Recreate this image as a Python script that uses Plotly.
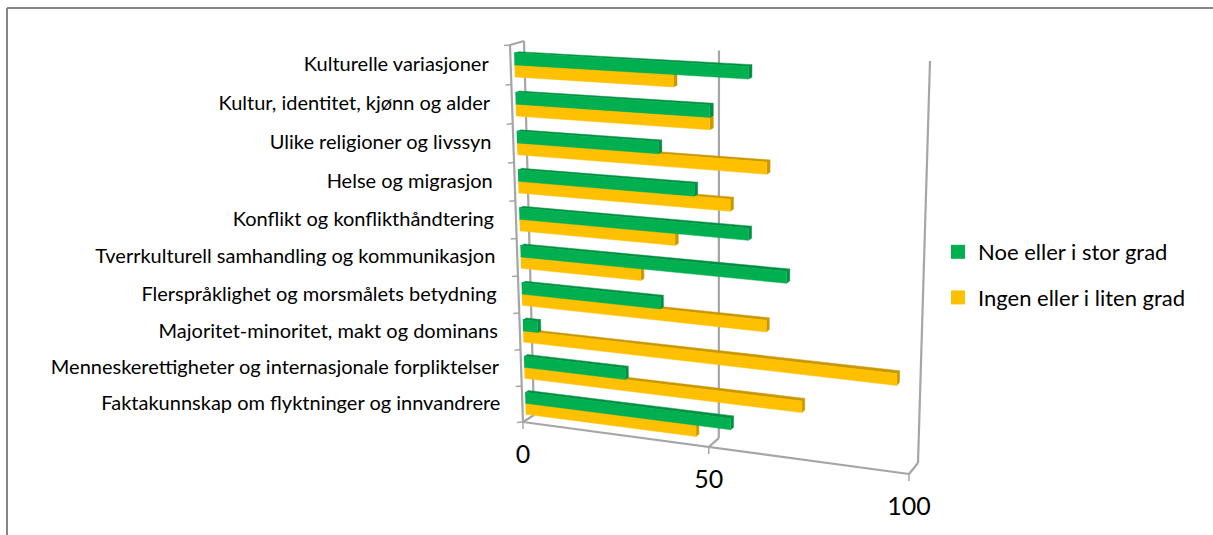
import numpy as np
import plotly.graph_objects as go

categories = [
    "Faktakunnskap om flyktninger og innvandrere",
    "Menneskerettigheter og internasjonale forpliktelser",
    "Majoritet-minoritet, makt og dominans",
    "Flerspråklighet og morsmålets betydning",
    "Tverrkulturell samhandling og kommunikasjon",
    "Konflikt og konflikthåndtering",
    "Helse og migrasjon",
    "Ulike religioner og livssyn",
    "Kultur, identitet, kjønn og alder",
    "Kulturelle variasjoner",
]
noe_eller_i_stor_grad = [55, 27.5, 4, 37, 69, 59.5, 46, 37, 50, 59.5]
ingen_eller_i_liten_grad = [46, 73, 96, 64, 32, 41, 55, 64, 50, 41]
value_ticks = [0, 50, 100]

GREEN, GREEN_DARK = "#00B050", "#008F41"
YELLOW, YELLOW_DARK = "#FFC000", "#C99700"
AXIS = "#A6A6A6"
FONT = "Lato"

# 3D view: value axis 0..100, category axis 0..10, depth 0 (front) .. 1 (back)
N = len(categories)
FRONT = [(523, 422), (909, 474), (510, 45), (918, 69)]
BACK = [(534, 415), (918, 463), (524, 41), (930, 61)]


def homography(corners):
    src = [(0, 0), (100, 0), (0, N), (100, N)]
    A, b = [], []
    for (u, v), (x, y) in zip(src, corners):
        A.append([u, v, 1, 0, 0, 0, -u * x, -v * x])
        A.append([0, 0, 0, u, v, 1, -u * y, -v * y])
        b += [x, y]
    return np.append(np.linalg.solve(np.array(A, float), np.array(b, float)), 1).reshape(3, 3)


HF, HB = homography(FRONT), homography(BACK)


def project(u, v, d=0.0):
    def one(H):
        p = H @ np.array([u, v, 1.0])
        return p[:2] / p[2]
    return (1 - d) * one(HF) + d * one(HB)


D0, D1 = 0.27, 0.55
BAR = 0.305


def faces(values, v_offset):
    front_x, front_y, top_x, top_y, side_x, side_y = [], [], [], [], [], []
    for i, val in enumerate(values):
        lo = i + 0.47 + v_offset
        hi = lo + BAR
        poly = [project(0, lo, D0), project(val, lo, D0), project(val, hi, D0), project(0, hi, D0)]
        front_x += [p[0] for p in poly] + [None]
        front_y += [p[1] for p in poly] + [None]
        poly = [project(0, hi, D0), project(val, hi, D0), project(val, hi, D1), project(0, hi, D1)]
        top_x += [p[0] for p in poly] + [None]
        top_y += [p[1] for p in poly] + [None]
        poly = [project(val, lo, D0), project(val, lo, D1), project(val, hi, D1), project(val, hi, D0)]
        side_x += [p[0] for p in poly] + [None]
        side_y += [p[1] for p in poly] + [None]
    return (front_x, front_y), (top_x, top_y), (side_x, side_y)


fig = go.Figure()


def polygon(xy, color):
    fig.add_trace(go.Scatter(x=xy[0], y=xy[1], mode="lines", fill="toself", fillcolor=color,
                             line=dict(color=color, width=0.5), hoverinfo="skip", showlegend=False))


def segment(p, q, width=2.2, color=AXIS):
    fig.add_trace(go.Scatter(x=[p[0], q[0]], y=[p[1], q[1]], mode="lines",
                             line=dict(color=color, width=width), hoverinfo="skip", showlegend=False))


# walls
for t in value_ticks:
    segment(project(t, 0, 1), project(t, N, 1))
    segment(project(t, 0, 0), project(t, 0, 1))
segment(project(0, N, 0), project(0, N, 1))
segment(project(0, 0, 0), project(100, 0, 0))
segment(project(0, 0, 0), project(0, N, 0))
for i in range(N + 1):
    p = project(0, i, 0)
    segment(p, (p[0] - 6, p[1] + 0.5), 1.5)
for t in value_ticks:
    p = project(t, 0, 0)
    segment(p, (p[0], p[1] + 7), 1.5)

# bars
yf, yt, ys = faces(ingen_eller_i_liten_grad, -BAR)
gf, gt, gs = faces(noe_eller_i_stor_grad, 0)
polygon(yt, YELLOW_DARK)
polygon(ys, YELLOW_DARK)
polygon(yf, YELLOW)
polygon(gt, GREEN_DARK)
polygon(gs, GREEN_DARK)
polygon(gf, GREEN)

# category labels
lab = [project(0, i + 0.5, 0) for i in range(N)]
fig.add_trace(go.Scatter(x=[p[0] - 22 for p in lab], y=[p[1] + 1 for p in lab], mode="text",
                         text=categories, textposition="middle left",
                         textfont=dict(family=FONT, size=20, color="#000000"),
                         hoverinfo="skip", showlegend=False))
# value labels
lab = [project(t, 0, 0) for t in value_ticks]
fig.add_trace(go.Scatter(x=[p[0] for p in lab], y=[p[1] + 35 for p in lab], mode="text",
                         text=[str(t) for t in value_ticks], textposition="middle center",
                         textfont=dict(family=FONT, size=25, color="#000000"),
                         hoverinfo="skip", showlegend=False))

# legend entries
for name, color in (("Noe eller i stor grad", GREEN), ("Ingen eller i liten grad", YELLOW)):
    fig.add_trace(go.Scatter(x=[None], y=[None], mode="markers", name=name, legendgroup=name,
                             marker=dict(symbol="square", size=14, color=color)))

fig.update_layout(
    width=1213, height=535, margin=dict(l=0, r=0, t=0, b=0),
    paper_bgcolor="white", plot_bgcolor="white",
    xaxis=dict(range=[0, 1213], visible=False, fixedrange=True),
    yaxis=dict(range=[535, 0], visible=False, fixedrange=True),
    font=dict(family=FONT, color="#000000"),
    legend=dict(x=938 / 1213, y=1 - 231 / 535, xanchor="left", yanchor="top",
                font=dict(family=FONT, size=22), itemwidth=30, tracegroupgap=14,
                bgcolor="rgba(0,0,0,0)"),
    shapes=[dict(type="line", x0=7, x1=7, y0=8, y1=535, line=dict(color="#868686", width=2)),
            dict(type="line", x0=7, x1=1213, y0=8, y1=8, line=dict(color="#868686", width=2))],
)
fig.write_html("out.html", config={"displayModeBar": False},
               post_script="document.body.style.margin='0';document.body.style.overflow='hidden';")
